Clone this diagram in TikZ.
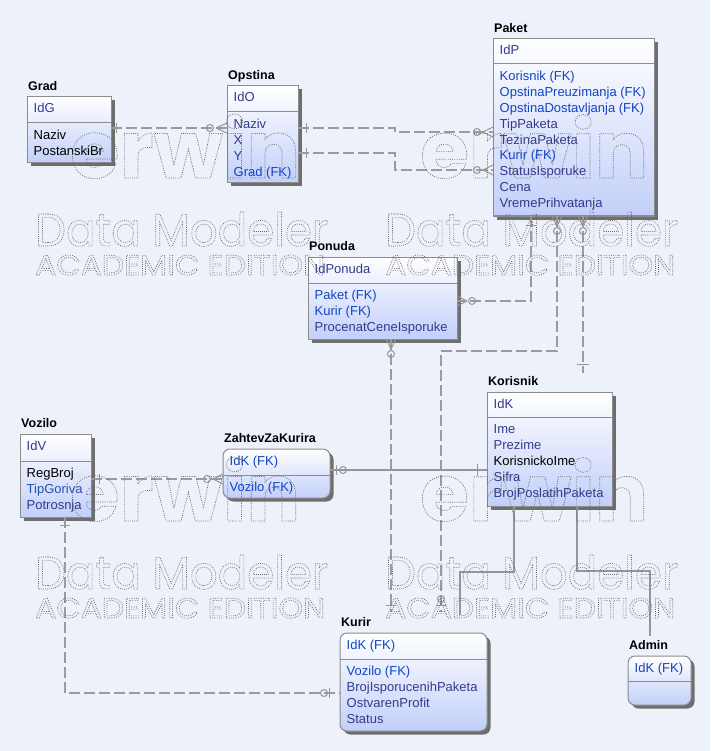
\documentclass[tikz,border=0pt]{standalone}
\usepackage{fontspec}
\usepackage{graphicx}
\setmainfont{Liberation Sans}
\newfontfamily\wmfont{Poppins}
\usetikzlibrary{calc,shadows}

\definecolor{canvas}{RGB}{237,242,250}
\definecolor{boxline}{RGB}{140,140,140}
\definecolor{boxbot}{RGB}{194,207,249}
\definecolor{shadowc}{RGB}{110,110,110}
\definecolor{keytxt}{RGB}{52,58,140}
\definecolor{fktxt}{RGB}{18,68,198}
\definecolor{midtxt}{RGB}{40,80,180}
\definecolor{relgray}{RGB}{155,155,155}
\definecolor{idgray}{RGB}{150,150,150}
\definecolor{wmgray}{RGB}{105,105,105}

% outlined, dotted watermark lettering (PDF text render mode 1)
\newcommand\outl[1]{\special{pdf:literal direct 1 Tr 0.7 w [0.9 1.3] 0 d}#1\special{pdf:literal direct [] 0 d 0 Tr}}
% one attribute line inside an entity box
\newcommand\erow[5]{\node[attr,text=#4] (#1) at (#2,#3) {#5};}

\tikzset{
  ebox/.style={rectangle, draw=boxline, line width=1pt, top color=white, bottom color=boxbot,
    inner sep=0pt, outer sep=0pt, anchor=north west,
    general shadow={fill=shadowc, shadow xshift=3.5pt, shadow yshift=-3.5pt}},
  rbox/.style={ebox, rounded corners=7pt},
  ttl/.style={anchor=base west, inner sep=0pt, font=\fontsize{12.5}{14}\selectfont\bfseries},
  attr/.style={anchor=base west, inner sep=0pt, font=\fontsize{13}{15}\selectfont},
  divider/.style={draw=boxline, line width=1pt},
  nonid/.style={draw=relgray, line width=2pt, dash pattern=on 11pt off 4pt},
  idrel/.style={draw=idgray, line width=1.2pt},
  endmk/.style={draw=idgray, line width=1pt},
  wm/.style={anchor=base west, inner sep=0pt, text=wmgray}
}

\begin{document}
\begin{tikzpicture}[x=1pt,y=-1pt]
\useasboundingbox (0,0) rectangle (710,751);
\fill[canvas] (0,0) rectangle (710,751);

% ---------------- entity boxes ----------------
\node[ebox, minimum width=84pt,  minimum height=66pt]  (grad)     at (27,97)  {};
\node[ebox, minimum width=71pt,  minimum height=97pt]  (opstina)  at (227,86) {};
\node[ebox, minimum width=161pt, minimum height=177pt] (paket)    at (493,39) {};
\node[ebox, minimum width=149pt, minimum height=82pt]  (ponuda)   at (308,257) {};
\node[ebox, minimum width=125pt, minimum height=114pt] (korisnik) at (487,392) {};
\node[ebox, minimum width=71pt,  minimum height=83pt]  (vozilo)   at (20,434) {};
\node[rbox, minimum width=107pt, minimum height=49pt]  (zahtev)   at (223,449) {};
\node[rbox, minimum width=147pt, minimum height=98pt]  (kurir)    at (340,633) {};
\node[rbox, minimum width=63pt,  minimum height=49pt]  (admin)    at (628,656) {};

% key / non-key dividers
\draw[divider] (grad.west |- 0,123)     -- (grad.east |- 0,123);
\draw[divider] (opstina.west |- 0,112)  -- (opstina.east |- 0,112);
\draw[divider] (paket.west |- 0,64)     -- (paket.east |- 0,64);
\draw[divider] (ponuda.west |- 0,283)   -- (ponuda.east |- 0,283);
\draw[divider] (korisnik.west |- 0,417) -- (korisnik.east |- 0,417);
\draw[divider] (vozilo.west |- 0,461)   -- (vozilo.east |- 0,461);
\draw[divider] (zahtev.west |- 0,475)   -- (zahtev.east |- 0,475);
\draw[divider] (kurir.west |- 0,659)    -- (kurir.east |- 0,659);
\draw[divider] (admin.west |- 0,681)    -- (admin.east |- 0,681);

% ---------------- titles ----------------
\node[ttl] (gradT)     at (28,90.5)   {Grad};
\node[ttl] (opstinaT)  at (228,79.5)  {Opstina};
\node[ttl] (paketT)    at (494,32.5)  {Paket};
\node[ttl] (ponudaT)   at (309,250.5) {Ponuda};
\node[ttl] (korisnikT) at (488,385.5) {Korisnik};
\node[ttl] (voziloT)   at (21,427.5)  {Vozilo};
\node[ttl] (zahtevT)   at (224,442.5) {ZahtevZaKurira};
\node[ttl] (kurirT)    at (341,626.5) {Kurir};
\node[ttl] (adminT)    at (629,649.5) {Admin};

% ---------------- attributes ----------------
\erow{g1}{33.5}{113}{keytxt}{IdG}
\erow{g2}{33.5}{139.5}{black}{Naziv}
\erow{g3}{33.5}{155.4}{black}{PostanskiBr}

\erow{o1}{233.5}{102}{keytxt}{IdO}
\erow{o2}{233.5}{128.5}{keytxt}{Naziv}
\erow{o3}{233.5}{144.4}{keytxt}{X}
\erow{o4}{233.5}{160.3}{keytxt}{Y}
\erow{o5}{233.5}{176.2}{fktxt}{Grad (FK)}

\erow{p1}{499.5}{55}{keytxt}{IdP}
\erow{p2}{499.5}{80.5}{fktxt}{Korisnik (FK)}
\erow{p3}{499.5}{96.4}{fktxt}{OpstinaPreuzimanja (FK)}
\erow{p4}{499.5}{112.3}{fktxt}{OpstinaDostavljanja (FK)}
\erow{p5}{499.5}{128.2}{keytxt}{TipPaketa}
\erow{p6}{499.5}{144.1}{keytxt}{TezinaPaketa}
\erow{p7}{499.5}{160.0}{fktxt}{Kurir (FK)}
\erow{p8}{499.5}{175.9}{keytxt}{StatusIsporuke}
\erow{p9}{499.5}{191.8}{keytxt}{Cena}
\erow{p10}{499.5}{207.7}{keytxt}{VremePrihvatanja}

\erow{n1}{314.5}{273}{keytxt}{IdPonuda}
\erow{n2}{314.5}{299.5}{fktxt}{Paket (FK)}
\erow{n3}{314.5}{315.4}{fktxt}{Kurir (FK)}
\erow{n4}{314.5}{331.3}{keytxt}{ProcenatCeneIsporuke}

\erow{r1}{493.5}{408}{keytxt}{IdK}
\erow{r2}{493.5}{433.5}{keytxt}{Ime}
\erow{r3}{493.5}{449.4}{keytxt}{Prezime}
\erow{r4}{493.5}{465.3}{black}{KorisnickoIme}
\erow{r5}{493.5}{481.2}{keytxt}{Sifra}
\erow{r6}{493.5}{497.1}{keytxt}{BrojPoslatihPaketa}

\erow{v1}{26.5}{450}{keytxt}{IdV}
\erow{v2}{26.5}{477.5}{black}{RegBroj}
\erow{v3}{26.5}{493.4}{midtxt}{TipGoriva}
\erow{v4}{26.5}{509.3}{keytxt}{Potrosnja}

\erow{z1}{229.5}{465}{fktxt}{IdK (FK)}
\erow{z2}{229.5}{491.5}{fktxt}{Vozilo (FK)}

\erow{k1}{346.5}{649}{fktxt}{IdK (FK)}
\erow{k2}{346.5}{675.5}{fktxt}{Vozilo (FK)}
\erow{k3}{346.5}{691.4}{keytxt}{BrojIsporucenihPaketa}
\erow{k4}{346.5}{707.3}{keytxt}{OstvarenProfit}
\erow{k5}{346.5}{723.2}{keytxt}{Status}

\erow{a1}{634.5}{672}{fktxt}{IdK (FK)}

% ---------------- relationship end points ----------------
\coordinate (cg1)  at ($(grad.north east)+(0,31)$);
\coordinate (co1)  at ($(opstina.north west)+(0,42)$);
\coordinate (co2)  at ($(opstina.north east)+(0,42)$);
\coordinate (cp2)  at ($(paket.north west)+(0,93)$);
\coordinate (co3)  at ($(opstina.north east)+(0,67)$);
\coordinate (cp3)  at ($(paket.north west)+(0,131)$);
\coordinate (cp4)  at ($(paket.south west)+(38,0)$);
\coordinate (cn4)  at ($(ponuda.north east)+(0,44)$);
\coordinate (cp5)  at ($(paket.south west)+(64,0)$);
\coordinate (ck5)  at ($(kurir.north west)+(101,-21)$);
\coordinate (cp6)  at ($(paket.south west)+(90,0)$);
\coordinate (cr6)  at ($(korisnik.north west)+(96,-19)$);
\coordinate (cn7)  at ($(ponuda.south west)+(83,0)$);
\coordinate (ck7)  at ($(kurir.north west)+(51,-21)$);
\coordinate (cv8)  at ($(vozilo.north east)+(0,45)$);
\coordinate (cz8)  at ($(zahtev.north west)+(0,30)$);
\coordinate (cv9)  at ($(vozilo.south west)+(45,0)$);
\coordinate (ck9)  at ($(kurir.north west)+(0,60)$);
\coordinate (cz10) at ($(zahtev.north east)+(0,21)$);
\coordinate (cr10) at ($(korisnik.north west)+(0,78)$);
\coordinate (cr11) at ($(korisnik.south west)+(27,0)$);
\coordinate (ck11) at ($(kurir.north west)+(120,-18)$);
\coordinate (cr12) at ($(korisnik.south west)+(90,0)$);
\coordinate (ca12) at ($(admin.north west)+(22,-20)$);

% ---------------- non-identifying relationships (dashed) ----------------
\draw[nonid] (cg1) -- (co1);
\draw[nonid] (co2) -- ++(97,0) |- (cp2);
\draw[nonid] (co3) -- ++(97,0) |- (cp3);
\draw[nonid] (cp4) |- (cn4);
\draw[nonid] (cp5) -- ++(0,135) -| (ck5);
\draw[nonid] (cp6) -- (cr6);
\draw[nonid] (cn7) -- (ck7);
\draw[nonid] (cv8) -- (cz8);
\draw[nonid] (cv9) |- (ck9);

% ---------------- identifying relationships (solid) ----------------
\draw[idrel] (cz10) -- (cr10);
\draw[idrel] (cr11) -- ++(0,66) -| (ck11);
\draw[idrel] (cr12) -- ++(0,65) -| (ca12);

% ---------------- cardinality marks ----------------
% Grad -> Opstina
\draw[endmk] ($(cg1)+(5,-5)$) -- ($(cg1)+(5,5)$);
\draw[endmk] ($(co1)+(-17,0)$) circle[radius=3.5];
\draw[endmk] ($(co1)+(-11,0)$) -- ($(co1)+(0,-5)$) ($(co1)+(-11,0)$) -- ($(co1)+(0,5)$);
% Opstina -> Paket (two roles)
\draw[endmk] ($(co2)+(8,-5)$) -- ($(co2)+(8,5)$);
\draw[endmk] ($(cp2)+(-16,0)$) circle[radius=3.5];
\draw[endmk] ($(cp2)+(-10,0)$) -- ($(cp2)+(0,-5)$) ($(cp2)+(-10,0)$) -- ($(cp2)+(0,5)$);
\draw[endmk] ($(co3)+(8,-5)$) -- ($(co3)+(8,5)$);
\draw[endmk] ($(cp3)+(-16,0)$) circle[radius=3.5];
\draw[endmk] ($(cp3)+(-10,0)$) -- ($(cp3)+(0,-5)$) ($(cp3)+(-10,0)$) -- ($(cp3)+(0,5)$);
% Paket -> Ponuda
\draw[endmk] ($(cp4)+(-5,9)$) -- ($(cp4)+(5,9)$);
\draw[endmk] ($(cn4)+(15,0)$) circle[radius=3.5];
\draw[endmk] ($(cn4)+(10,0)$) -- ($(cn4)+(0,-5)$) ($(cn4)+(10,0)$) -- ($(cn4)+(0,5)$);
% Kurir -> Paket
\draw[endmk] ($(cp5)+(0,10)$) -- ($(cp5)+(-5,0)$) ($(cp5)+(0,10)$) -- ($(cp5)+(5,0)$);
\draw[endmk] ($(cp5)+(0,15)$) circle[radius=3.5];
\draw[endmk] ($(ck5)+(0,-13)$) circle[radius=3.5];
\draw[endmk] ($(ck5)+(-5,-7)$) -- ($(ck5)+(5,-7)$);
% Korisnik -> Paket
\draw[endmk] ($(cp6)+(0,10)$) -- ($(cp6)+(-5,0)$) ($(cp6)+(0,10)$) -- ($(cp6)+(5,0)$);
\draw[endmk] ($(cp6)+(0,15)$) circle[radius=3.5];
\draw[endmk] ($(cr6)+(-6,-9)$) -- ($(cr6)+(6,-9)$);
% Kurir -> Ponuda
\draw[endmk] ($(cn7)+(0,10)$) -- ($(cn7)+(-5,0)$) ($(cn7)+(0,10)$) -- ($(cn7)+(5,0)$);
\draw[endmk] ($(cn7)+(0,15)$) circle[radius=3.5];
\draw[endmk] ($(ck7)+(-5,-7)$) -- ($(ck7)+(5,-7)$);
% Vozilo -> ZahtevZaKurira
\draw[endmk] ($(cv8)+(8,-5)$) -- ($(cv8)+(8,5)$);
\draw[endmk] ($(cz8)+(-16,0)$) circle[radius=3.5];
\draw[endmk] ($(cz8)+(-10,0)$) -- ($(cz8)+(0,-5)$) ($(cz8)+(-10,0)$) -- ($(cz8)+(0,5)$);
% Vozilo -> Kurir
\draw[endmk] ($(cv9)+(-5,8)$) -- ($(cv9)+(5,8)$);
\draw[endmk] ($(ck9)+(-16,0)$) circle[radius=3.5];
\draw[endmk] ($(ck9)+(-11,-5)$) -- ($(ck9)+(-11,5)$);
% ZahtevZaKurira -> Korisnik
\draw[endmk] ($(cz10)+(6,-5)$) -- ($(cz10)+(6,5)$);
\draw[endmk] ($(cz10)+(13,0)$) circle[radius=3.5];
\draw[endmk] ($(cr10)+(-10,-6)$) -- ($(cr10)+(-10,6)$);

% ---------------- edition watermark ----------------
\node[wm] (wmE1) at (70,178)  {\resizebox{230pt}{!}{\wmfont\bfseries\fontsize{80}{80}\selectfont\outl{erwin}}};
\node[wm] (wmE2) at (420,178) {\resizebox{228pt}{!}{\wmfont\bfseries\fontsize{80}{80}\selectfont\outl{erwin}}};
\node[wm] (wmE3) at (70,521)  {\resizebox{230pt}{!}{\wmfont\bfseries\fontsize{80}{80}\selectfont\outl{erwin}}};
\node[wm] (wmE4) at (420,521) {\resizebox{228pt}{!}{\wmfont\bfseries\fontsize{80}{80}\selectfont\outl{erwin}}};
\node[wm] (wmD1) at (35,246)  {\resizebox{293pt}{34pt}{\wmfont\fontsize{48}{50}\selectfont\outl{Data Modeler}}};
\node[wm] (wmD2) at (385,246) {\resizebox{293pt}{34pt}{\wmfont\fontsize{48}{50}\selectfont\outl{Data Modeler}}};
\node[wm] (wmD3) at (35,589)  {\resizebox{293pt}{34pt}{\wmfont\fontsize{48}{50}\selectfont\outl{Data Modeler}}};
\node[wm] (wmD4) at (385,589) {\resizebox{293pt}{34pt}{\wmfont\fontsize{48}{50}\selectfont\outl{Data Modeler}}};
\node[wm] (wmA1) at (35,275)  {\resizebox{290pt}{20pt}{\wmfont\fontsize{30}{32}\selectfont\outl{ACADEMIC EDITION}}};
\node[wm] (wmA2) at (385,275) {\resizebox{290pt}{20pt}{\wmfont\fontsize{30}{32}\selectfont\outl{ACADEMIC EDITION}}};
\node[wm] (wmA3) at (35,618)  {\resizebox{290pt}{20pt}{\wmfont\fontsize{30}{32}\selectfont\outl{ACADEMIC EDITION}}};
\node[wm] (wmA4) at (385,618) {\resizebox{290pt}{20pt}{\wmfont\fontsize{30}{32}\selectfont\outl{ACADEMIC EDITION}}};
\end{tikzpicture}
\end{document}
